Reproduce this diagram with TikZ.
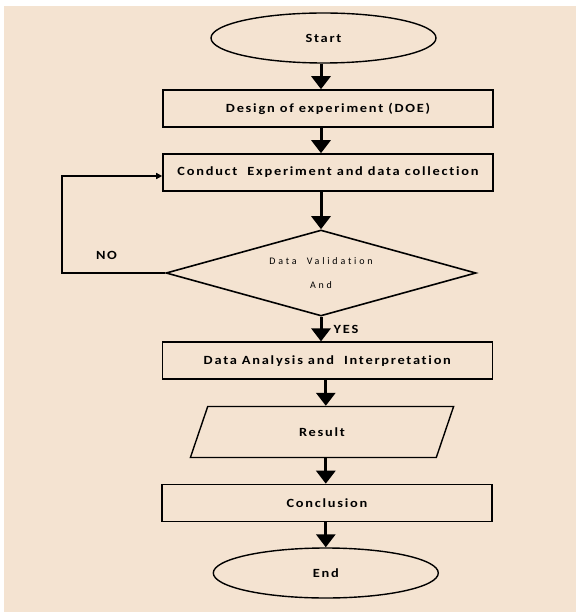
\documentclass[tikz,border=0pt]{standalone}
\usepackage{fontspec}
\setmainfont{Carlito}[Ligatures=NoCommon]
\usepackage{tikz}
\usetikzlibrary{arrows.meta}
\usetikzlibrary{shapes.geometric, positioning}
\definecolor{paper}{HTML}{F4E3D1}

\begin{document}
\begin{tikzpicture}[x=1pt, y=1pt,
		txt/.style={font=\bfseries\fontsize{12.5}{14}\selectfont\addfontfeature{FakeStretch=1.15,LetterSpace=14}},
		box/.style={draw, line width=1.6pt, inner sep=0pt, minimum width=330pt, minimum height=37pt, txt},
		oval/.style={ellipse, draw, line width=1.4pt, inner sep=0pt, minimum width=225pt, minimum height=50pt, txt},
		check/.style={diamond, aspect=3.6, draw, line width=1.6pt, inner sep=0pt, minimum width=310pt, minimum height=86pt, align=center,
			font=\fontsize{10}{12}\selectfont\addfontfeature{LetterSpace=28}},
		io/.style={trapezium, trapezium left angle=68.6, trapezium right angle=111.4, trapezium stretches=true,
			draw, line width=1.4pt, inner sep=0pt, minimum width=264pt, minimum height=51pt, txt},
		flow/.style={line width=3pt, -{Triangle[width=19pt,length=13pt]}},
		back/.style={line width=1.5pt, -{Triangle[width=6pt,length=6pt]}}]
		\useasboundingbox (0,0) rectangle (576,-612);
		\fill[paper] (4,-6) rectangle (576,-612);
		% steps
		\node[oval] (start) at (323.5,-38) {Start};
		\node[box] (doe) at (328,-108.5) {Design of experiment (DOE)};
		\node[box] (conduct) at (328,-172.5) {Conduct~ Experiment and data collection};
		\node[check] (valid) at (321,-273) {Data~ Validation\\[12pt]And};
		\node[box] (analysis) at (327.3,-360.7) {Data Analysis and~ Interpretation};
		\node[io] (result) at (322,-432) {Result};
		\node[box] (concl) at (327,-503) {Conclusion};
		\node[oval] (stop) at (325.8,-573) {End};
		% arrows
		\draw[flow] (start.south -| valid) -- (doe.north -| valid);
		\draw[flow] (doe.south -| valid) -- (conduct.north -| valid);
		\draw[flow] (conduct.south -| valid) -- (valid.north);
		\draw[flow] (valid.south) -- (analysis.north -| valid);
		\draw[flow] (analysis.south -| stop) -- (result.north -| stop);
		\draw[flow] (result.south -| stop) -- (concl.north -| stop);
		\draw[flow] (concl.south -| stop) -- (stop.north);
		% loop back
		\coordinate (bend) at (62,-273);
		\draw[back] (valid.west) -- (bend) |- ([yshift=-3.5pt]conduct.west);
		\node[txt] (no) at (106.5,-255) {NO};
		\node[txt] (yes) at (346,-329) {YES};
\end{tikzpicture}
\end{document}
